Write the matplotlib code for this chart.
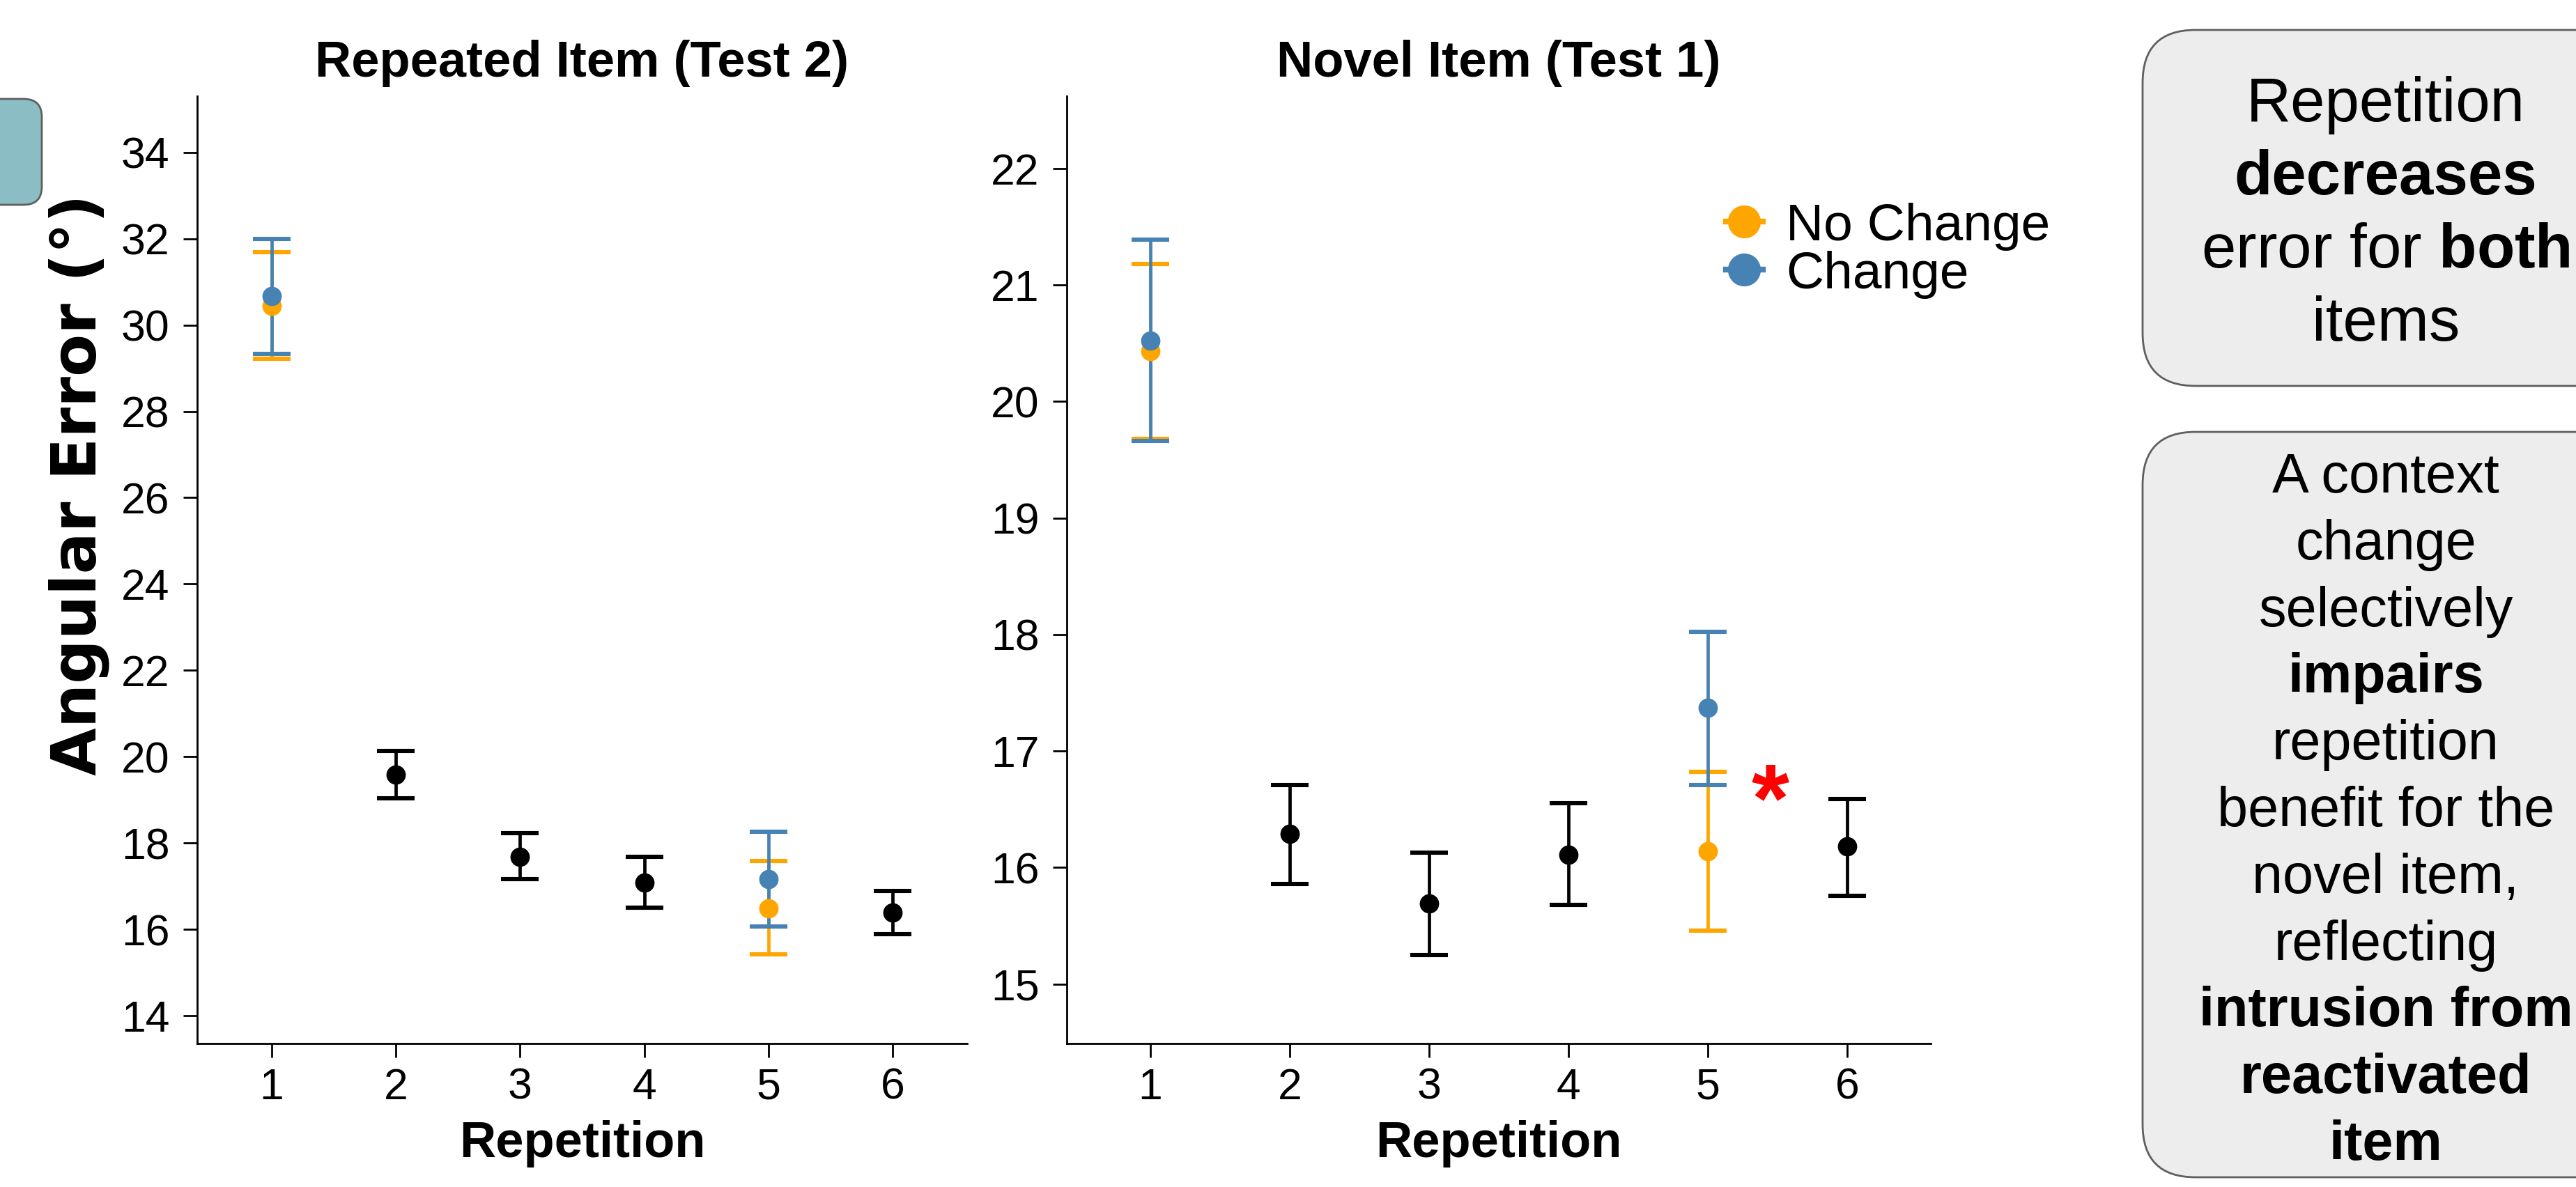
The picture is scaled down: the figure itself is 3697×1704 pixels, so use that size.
import matplotlib
matplotlib.use("Agg")
import matplotlib.pyplot as plt
from matplotlib.lines import Line2D
from matplotlib.patches import FancyBboxPatch

# --- data ---
reps = [1, 2, 3, 4, 5, 6]
black_reps = [2, 3, 4, 6]
color_reps = [1, 5]

# Repeated item (Test 2)
rep_mean = [19.58, 17.69, 17.09, 16.39]
rep_lo = [19.04, 17.16, 16.51, 15.89]
rep_hi = [20.14, 18.23, 17.68, 16.90]
rep_nochange_mean = [30.45, 16.49]
rep_nochange_lo = [29.22, 15.43]
rep_nochange_hi = [31.69, 17.58]
rep_change_mean = [30.67, 17.16]
rep_change_lo = [29.33, 16.07]
rep_change_hi = [32.00, 18.27]

# Novel item (Test 1)
nov_mean = [16.29, 15.69, 16.11, 16.18]
nov_lo = [15.86, 15.25, 15.68, 15.76]
nov_hi = [16.71, 16.13, 16.55, 16.59]
nov_nochange_mean = [20.43, 16.14]
nov_nochange_lo = [19.68, 15.46]
nov_nochange_hi = [21.18, 16.82]
nov_change_mean = [20.52, 17.37]
nov_change_lo = [19.66, 16.71]
nov_change_hi = [21.39, 18.02]

rep_yticks = [14, 16, 18, 20, 22, 24, 26, 28, 30, 32, 34]
nov_yticks = [15, 16, 17, 18, 19, 20, 21, 22]

box1_lines = [("Repetition", "normal"), ("decreases", "bold"),
              (r"error for $\mathbf{both}$", "normal"), ("items", "normal")]
box2_lines = [("A context", "normal"), ("change", "normal"), ("selectively", "normal"),
              ("impairs", "bold"), ("repetition", "normal"), ("benefit for the", "normal"),
              ("novel item,", "normal"), ("reflecting", "normal"),
              ("intrusion from", "bold"), ("reactivated", "bold"), ("item", "bold")]

NOCHANGE = "#FFA500"
CHANGE = "#4682B4"

plt.rcParams["font.family"] = ["Liberation Sans", "DejaVu Sans"]
plt.rcParams["mathtext.fontset"] = "custom"
plt.rcParams["mathtext.rm"] = "Liberation Sans"
plt.rcParams["mathtext.bf"] = "Liberation Sans:bold"

W, H, DPI = 3697, 1704, 200


def err(mean, lo, hi):
    return [[m - l for m, l in zip(mean, lo)], [h - m for m, h in zip(mean, hi)]]


def draw_panel(ax, title, mean, lo, hi, nc, ch, ylim, yticks):
    kw = dict(fmt="o", ms=9, elinewidth=1.7, capsize=9.7, capthick=2.2, zorder=3)
    ax.errorbar(black_reps, mean, yerr=err(mean, lo, hi), color="black", **kw)
    ax.errorbar(color_reps, nc[0], yerr=err(*nc), color=NOCHANGE, **kw)
    ax.errorbar(color_reps, ch[0], yerr=err(*ch), color=CHANGE, **kw)

    ax.set_xlim(0.4, 6.6)
    ax.set_ylim(*ylim)
    ax.set_xticks(reps)
    ax.set_yticks(yticks)
    ax.tick_params(labelsize=22.5, length=7.2, width=1.0, color="black")
    ax.tick_params(axis="x", pad=5)
    ax.tick_params(axis="y", pad=7)
    for s in ("top", "right"):
        ax.spines[s].set_visible(False)
    for s in ("left", "bottom"):
        ax.spines[s].set_linewidth(1.0)
    ax.set_title(title, fontsize=26, fontweight="bold", pad=10)
    ax.set_xlabel("Repetition", fontsize=26, fontweight="bold", labelpad=6)


fig = plt.figure(figsize=(W / DPI, H / DPI), dpi=DPI)
ax1 = fig.add_axes([283 / W, 1 - 1498 / H, 1105 / W, 1360 / H])
ax2 = fig.add_axes([1531 / W, 1 - 1498 / H, 1240 / W, 1360 / H])

draw_panel(ax1, "Repeated Item (Test 2)", rep_mean, rep_lo, rep_hi,
           (rep_nochange_mean, rep_nochange_lo, rep_nochange_hi),
           (rep_change_mean, rep_change_lo, rep_change_hi),
           (13.36, 35.3), rep_yticks)
draw_panel(ax2, "Novel Item (Test 1)", nov_mean, nov_lo, nov_hi,
           (nov_nochange_mean, nov_nochange_lo, nov_nochange_hi),
           (nov_change_mean, nov_change_lo, nov_change_hi),
           (14.49, 22.62), nov_yticks)

ax1.set_ylabel("Angular Error (°)", fontsize=32, fontweight="bold",
               family=["DejaVu Sans"], labelpad=6)
ax1.yaxis.label.set_y(0.59)

# significance star
ax2.text(5.45, 16.31, "*", color="red", fontsize=50, fontweight="bold",
         ha="center", va="baseline")

handles = [Line2D([], [], color=NOCHANGE, marker="o", ms=16, lw=3),
           Line2D([], [], color=CHANGE, marker="o", ms=16, lw=3)]
ax2.legend(handles, ["No Change", "Change"], loc="center left",
           bbox_to_anchor=(0.763, 0.837), frameon=False, fontsize=27,
           handlelength=0.7, handletextpad=0.45, labelspacing=0.0,
           borderpad=0, borderaxespad=0)

# side annotations (slide boxes)
px = fig.dpi_scale_trans
def box(x0, y0, x1, y1, face, r=0.38):
    fig.patches.append(FancyBboxPatch(
        (x0 / DPI, (H - y1) / DPI), (x1 - x0) / DPI, (y1 - y0) / DPI,
        boxstyle=f"round,pad=0,rounding_size={r}", transform=px,
        facecolor=face, edgecolor="#5f5f5f", linewidth=1.0))

box(-200, 142, 60, 294, "#8BBEC4", r=0.13)
box(3075, 43, 3773, 554, "#EDEDED")
box(3075, 620, 3773, 1690, "#EDEDED")

for i, (txt, wt) in enumerate(box1_lines):
    fig.text(3424 / W, 1 - (174 + 105 * i) / H, txt, fontsize=32, fontweight=wt,
             ha="center", va="baseline")
for i, (txt, wt) in enumerate(box2_lines):
    fig.text(3424 / W, 1 - (707 + 95.8 * i) / H, txt, fontsize=28.5, fontweight=wt,
             ha="center", va="baseline")

fig.savefig("out.png", dpi=DPI)
